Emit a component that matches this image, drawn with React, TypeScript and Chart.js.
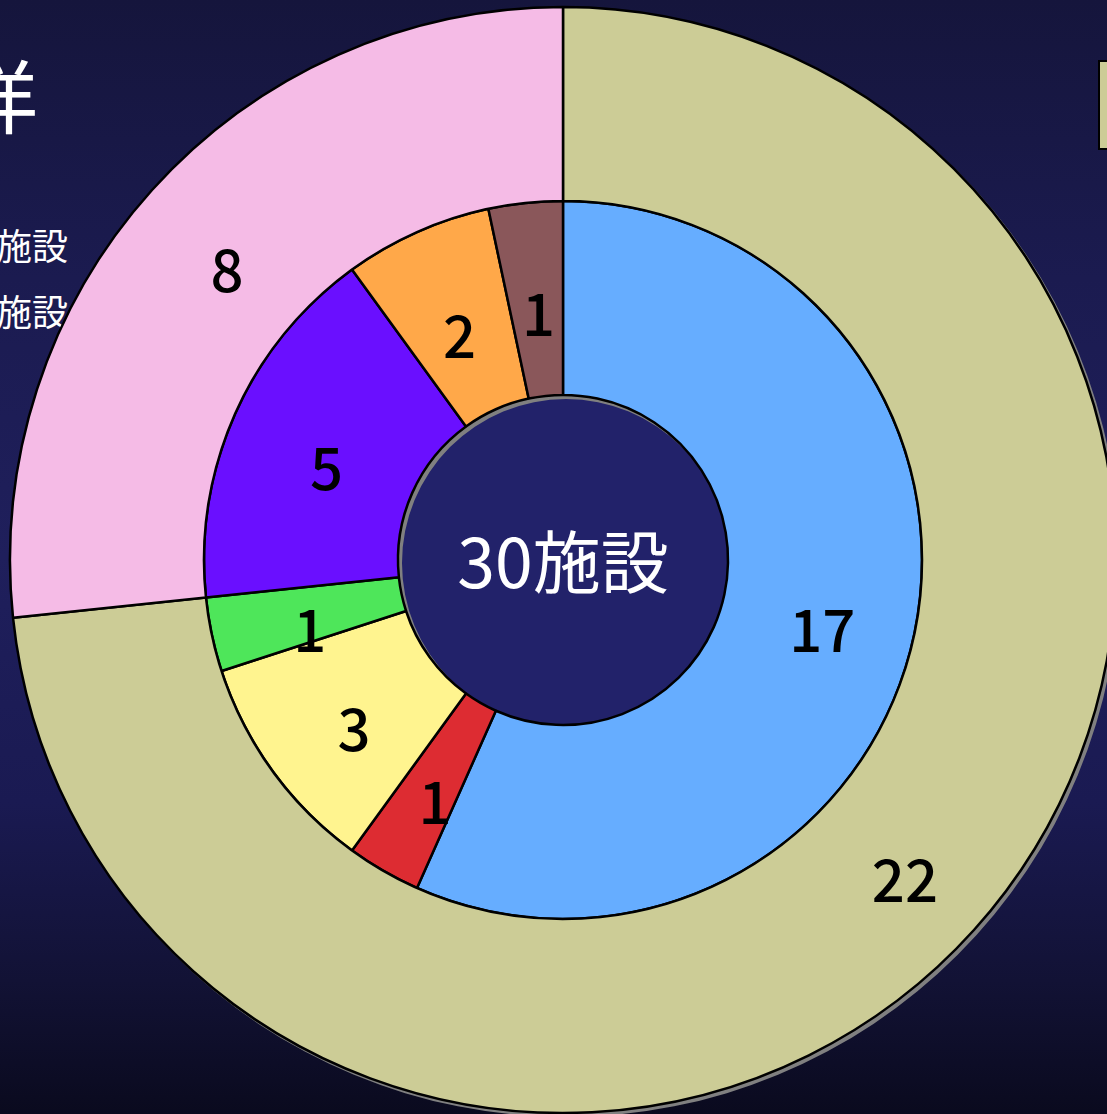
import React, { useEffect, useRef } from "react";
import { Chart, registerables } from "chart.js";

Chart.register(...registerables);

// Outer ring
const outerLabels = ["A", "B"];
const outerValues = [22, 8];
const outerColors = ["#CCCC96", "#F5BBE6"];

// Inner ring
const innerLabels = ["a", "b", "c", "d", "e", "f", "g"];
const innerValues = [17, 1, 3, 1, 5, 2, 1];
const innerColors = ["#66ADFF", "#DD2C32", "#FFF48F", "#4EE65A", "#6A0FFF", "#FFA849", "#8A575A"];

const centerText = "30施設";
const FONT = '"Noto Sans CJK JP", "Noto Sans", sans-serif';

const bgPlugin = {
  id: "ringShadow",
  beforeDatasetsDraw(chart: any) {
    const meta = chart.getDatasetMeta(0);
    const arc = meta.data[0];
    if (!arc) return;
    const { x, y, outerRadius } = arc.getProps(["x", "y", "outerRadius"], true);
    const innerMeta = chart.getDatasetMeta(1);
    const inArc = innerMeta.data[0];
    const inner = inArc.getProps(["innerRadius"], true).innerRadius;
    const ctx = chart.ctx;
    ctx.save();
    // hole fill
    ctx.beginPath();
    ctx.arc(x, y, inner, 0, Math.PI * 2);
    ctx.fillStyle = "#22226A";
    ctx.fill();
    // shadow annulus
    ctx.beginPath();
    ctx.arc(x + 3, y + 3, outerRadius + 1, 0, Math.PI * 2);
    ctx.arc(x + 3, y + 3, inner - 1, 0, Math.PI * 2, true);
    ctx.fillStyle = "#808080";
    ctx.fill("evenodd");
    ctx.restore();
  },
  afterDatasetsDraw(chart: any) {
    const ctx = chart.ctx;
    ctx.save();
    ctx.textAlign = "center";
    ctx.textBaseline = "middle";
    ctx.fillStyle = "#000000";
    ctx.font = `500 58px ${FONT}`;
    chart.data.datasets.forEach((ds: any, i: number) => {
      const meta = chart.getDatasetMeta(i);
      meta.data.forEach((el: any, j: number) => {
        const p = el.tooltipPosition();
        ctx.fillText(String(ds.data[j]), p.x + 3, p.y + 15);
      });
    });
    const arc = chart.getDatasetMeta(0).data[0];
    const { x, y } = arc.getProps(["x", "y"], true);
    ctx.fillStyle = "#FFFFFF";
    ctx.font = `68px ${FONT}`;
    ctx.fillText(centerText, x, y + 2);
    ctx.restore();
  },
};

export default function App() {
  const ref = useRef<HTMLCanvasElement | null>(null);
  useEffect(() => {
    if (!ref.current) return;
    const chart = new Chart(ref.current, {
      type: "doughnut",
      data: {
        labels: innerLabels,
        datasets: [
          {
            label: "outer",
            data: outerValues,
            backgroundColor: outerColors,
            borderColor: "#000000",
            borderWidth: 2.5,
          },
          {
            label: "inner",
            data: innerValues,
            backgroundColor: innerColors,
            borderColor: "#000000",
            borderWidth: 2.5,
          },
        ],
      },
      options: {
        responsive: false,
        maintainAspectRatio: false,
        animation: false,
        radius: 553,
        cutout: "29.84%",
        layout: { padding: 0 },
        plugins: {
          legend: { display: false },
          tooltip: { enabled: false },
        },
      },
      plugins: [bgPlugin],
    });
    return () => chart.destroy();
  }, []);

  return (
    <div
      style={{
        position: "fixed",
        left: 0,
        top: 0,
        width: 1107,
        height: 1114,
        overflow: "hidden",
        background:
          "linear-gradient(180deg, #15153C 0%, #1B1B50 25%, #1F1F5C 50%, #1A1A52 72%, #121235 88%, #0A0A1E 100%)",
        fontFamily: FONT,
      }}
    >
      <span style={{ position: "absolute", left: -42, top: 50, fontSize: 80, lineHeight: "84px", color: "#fff" }}>洋</span>
      <span style={{ position: "absolute", left: -4, top: 224, fontSize: 36, lineHeight: "40px", color: "#fff" }}>施設</span>
      <span style={{ position: "absolute", left: -4, top: 290, fontSize: 36, lineHeight: "40px", color: "#fff" }}>施設</span>
      <div
        style={{
          position: "absolute",
          left: 1098,
          top: 60,
          width: 20,
          height: 86,
          background: "#CCCC96",
          border: "2px solid #000",
        }}
      />
      <canvas
        ref={ref}
        width={1200}
        height={1200}
        style={{ position: "absolute", left: -37, top: -40, width: 1200, height: 1200 }}
      />
    </div>
  );
}
